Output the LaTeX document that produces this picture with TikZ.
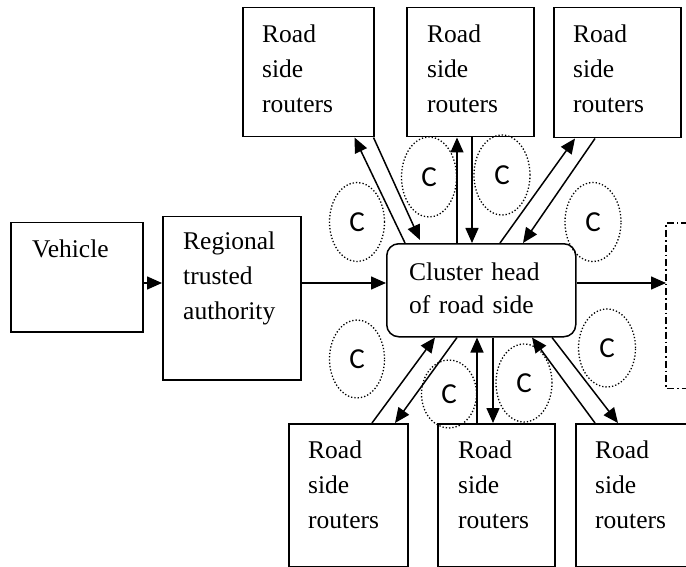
\documentclass[tikz,border=0pt]{standalone}
\usepackage{fontspec}
\setmainfont{Liberation Serif}
\newfontfamily\cfont{Carlito}
\usetikzlibrary{arrows.meta,shapes.geometric,calc}

\tikzset{
  box/.style={draw, line width=1.5pt, inner sep=0pt, anchor=north west},
  boxtext/.style={anchor=base west, inner sep=0pt, text width=170pt, align=left,
    font=\fontsize{25.5}{35}\selectfont},
  link/.style={line width=1.5pt, -{Triangle[length=15pt,width=13pt]}},
  zone/.style={ellipse, draw, dotted, line width=1.3pt, inner sep=0pt,
    font=\cfont\fontsize{29}{29}\selectfont},
  dashdot/.style={line width=1.5pt, dash pattern=on 7pt off 3pt on 1.5pt off 3pt}
}

\begin{document}
\begin{tikzpicture}[x=1pt,y=-1pt]
\useasboundingbox (0,0) rectangle (686,567);

% main row boxes
\node[box, minimum width=132pt, minimum height=109pt] (veh) at (10,222) {};
\node[boxtext] (vehtxt) at (32,257) {Vehicle};
\node[box, minimum width=138pt, minimum height=163pt] (reg) at (162,216) {};
\node[boxtext] (regtxt) at (183,250) {Regional\\trusted\\authority};

% cluster head
\node[box, rounded corners=12pt, minimum width=189pt, minimum height=93pt] (ch) at (386,243) {};
\node[boxtext, font=\fontsize{25.5}{33}\selectfont] (chtxt) at (409,280) {Cluster head\\of road side};

% external unit (dash-dot, partly outside)
\node[minimum width=40pt, minimum height=165pt, inner sep=0pt, anchor=north west] (ext) at (666,223) {};
\draw[dashdot] ($(ext.north west)+(22,0)$) -- (ext.north west) -- (ext.south west) -- ++(22,0);

% road side routers, top row
\node[box, minimum width=131pt, minimum height=129pt] (t1) at (242,7) {};
\node[boxtext] (t1txt) at (262,43) {Road\\side\\routers};
\node[box, minimum width=127pt, minimum height=129pt] (t2) at (406,7) {};
\node[boxtext] (t2txt) at (427,43) {Road\\side\\routers};
\node[box, minimum width=127pt, minimum height=130pt] (t3) at (553,7) {};
\node[boxtext] (t3txt) at (573,43) {Road\\side\\routers};

% road side routers, bottom row
\node[box, minimum width=119pt, minimum height=143pt] (b1) at (288,423) {};
\node[boxtext] (b1txt) at (308,458) {Road\\side\\routers};
\node[box, minimum width=117pt, minimum height=143pt] (b2) at (437,423) {};
\node[boxtext] (b2txt) at (458,458) {Road\\side\\routers};
\node[box, minimum width=125pt, minimum height=143pt] (b3) at (575,423) {};
\node[boxtext] (b3txt) at (595,458) {Road\\side\\routers};

% cluster zones
\node[zone, minimum width=55pt, minimum height=79pt] (z1) at (357,222) {C};
\node[zone, minimum width=55pt, minimum height=80pt] (z2) at (429,177) {C};
\node[zone, minimum width=56pt, minimum height=80pt] (z3) at (502,175) {C};
\node[zone, minimum width=56pt, minimum height=79pt] (z4) at (593,222) {C};
\node[zone, minimum width=55pt, minimum height=78pt] (z5) at (357,359) {C};
\node[zone, minimum width=55pt, minimum height=68pt] (z6) at (449,394) {C};
\node[zone, minimum width=56pt, minimum height=78pt] (z7) at (524,383) {C};
\node[zone, minimum width=57pt, minimum height=78pt] (z8) at (607,348) {C};

% main data path
\coordinate (row) at (0,283);
\draw[link] (veh.east |- row) -- (reg.west |- row);
\draw[link] (reg.east |- row) -- (ch.west |- row);
\draw[link] (ch.east |- row) -- (ext.west |- row);

% links to the top routers
\draw[link] ($(ch.north west)+(19,0)$) -- ($(t1.south east)+(-20,0)$);
\draw[link] ($(t1.south east)+(-1,0)$) -- ($(ch.north west)+(34,-3)$);
\draw[link] ($(ch.north west)+(71,0)$) -- ($(t2.south west)+(51,0)$);
\draw[link] ($(t2.south west)+(66,0)$) -- ($(ch.north west)+(86,0)$);
\draw[link] ($(ch.north west)+(114,0)$) -- ($(t3.south west)+(22,0)$);
\draw[link] ($(t3.south west)+(42,0)$) -- ($(ch.north west)+(137,0)$);

% links to the bottom routers
\draw[link] ($(b1.north west)+(84,0)$) -- ($(ch.south west)+(49,0)$);
\draw[link] ($(ch.south west)+(71,0)$) -- ($(b1.north west)+(107,0)$);
\draw[link] ($(b2.north west)+(40,0)$) -- ($(ch.south west)+(91,0)$);
\draw[link] ($(ch.south west)+(107,0)$) -- ($(b2.north west)+(56,0)$);
\draw[link] ($(b3.north west)+(20,0)$) -- ($(ch.south west)+(146,0)$);
\draw[link] ($(ch.south west)+(166,0)$) -- ($(b3.north west)+(43,0)$);
\end{tikzpicture}
\end{document}
